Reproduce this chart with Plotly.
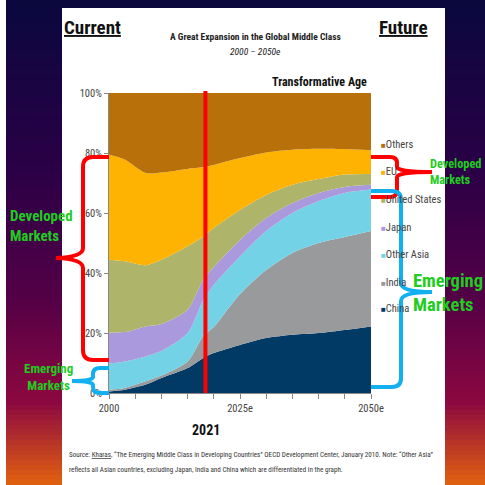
import plotly.graph_objects as go

years = [2000, 2003, 2007, 2010, 2015, 2018, 2020, 2025, 2030, 2035, 2040, 2045, 2050]
china = [0.5, 1.1, 2.8, 5.0, 8.3, 11.7, 13.3, 16.0, 18.3, 19.4, 20.0, 21.0, 22.2]
india = [0.6, 0.6, 1.1, 0.8, 2.2, 7.3, 8.7, 17.0, 22.7, 27.3, 30.0, 31.0, 31.8]
other_asia = [8.7, 8.8, 8.3, 8.2, 9.5, 12.0, 14.0, 12.5, 13.0, 13.3, 14.0, 14.7, 13.8]
japan = [10.4, 9.8, 10.0, 9.0, 7.8, 6.8, 6.0, 5.5, 4.3, 3.3, 2.7, 2.0, 1.6]
united_states = [24.2, 23.6, 20.4, 21.4, 21.1, 14.4, 13.0, 10.0, 7.7, 6.1, 4.6, 4.1, 3.6]
eu = [35.0, 33.9, 30.7, 29.1, 25.8, 23.1, 21.0, 17.3, 14.2, 11.7, 10.1, 8.5, 7.9]
others = [20.6, 22.2, 26.7, 26.5, 25.3, 24.7, 24.0, 21.7, 19.8, 18.9, 18.6, 18.7, 19.1]

series_names = ["China", "India", "Other Asia", "Japan", "United States", "EU", "Others"]
series_values = [china, india, other_asia, japan, united_states, eu, others]
series_colors = ["#023A66", "#999A9C", "#74D2E6", "#AA99DC", "#AEB46A", "#FEB302", "#B8710A"]

x_tickvals = [2000, 2005, 2010, 2015, 2020, 2025, 2030, 2035, 2040, 2045, 2050]
x_ticktext = ["2000", "", "", "", "", "2025e", "", "", "", "", "2050e"]
y_tickvals = [0, 20, 40, 60, 80, 100]
y_ticktext = ["0%", "20%", "40%", "60%", "80%", "100%"]
marker_year = 2018.4
marker_label = "2021"

NARROW = "Roboto Condensed, Liberation Sans Narrow, Arial Narrow, Liberation Sans"

# plot area in pixels
L, R, T, B = 109, 371, 93, 393
W = 485

def px(X):
    return (X - L) / (R - L)

def py(Y):
    return (B - Y) / (B - T)

fig = go.Figure()
for name, vals, col in zip(series_names, series_values, series_colors):
    fig.add_trace(go.Scatter(
        x=years, y=vals, name=name, mode="none", stackgroup="one",
        fillcolor=col, line=dict(shape="spline", smoothing=0.8, width=0),
        showlegend=False, hoverinfo="x+y+name"))

shapes = []
# background gradient
stops = [(0, (10, 8, 62)), (0.35, (42, 0, 70)), (0.62, (85, 0, 70)),
         (0.83, (140, 8, 64)), (1.0, (226, 98, 14))]

def grad(t):
    for i in range(len(stops) - 1):
        a, ca = stops[i]
        b, cb = stops[i + 1]
        if a <= t <= b:
            f = (t - a) / (b - a)
            return "rgb(%d,%d,%d)" % tuple(round(ca[k] + (cb[k] - ca[k]) * f) for k in range(3))
    return "rgb(%d,%d,%d)" % stops[-1][1]

step = 5
for Y in range(0, W, step):
    shapes.append(dict(type="rect", xref="paper", yref="paper", layer="below",
                       x0=px(0), x1=px(W), y0=py(min(Y + step + 1, W)), y1=py(Y),
                       line=dict(width=0), fillcolor=grad((Y + step / 2) / W)))
# white strips / panel
shapes.append(dict(type="rect", xref="paper", yref="paper", layer="below",
                   x0=px(0), x1=px(6), y0=py(W), y1=py(0), line=dict(width=0), fillcolor="white"))
shapes.append(dict(type="rect", xref="paper", yref="paper", layer="below",
                   x0=px(62), x1=px(445), y0=py(W), y1=py(8), line=dict(width=0), fillcolor="white"))

# red marker line
shapes.append(dict(type="line", xref="x", yref="paper", x0=marker_year, x1=marker_year,
                   y0=0, y1=py(91), line=dict(color="#FF0000", width=4)))


def path(cmds):
    out = []
    for c in cmds:
        op = c[0]
        pts = c[1:]
        s = " ".join("%.5f,%.5f" % (px(pts[i]), py(pts[i + 1])) for i in range(0, len(pts), 2))
        out.append(op + " " + s)
    return " ".join(out)

red_left = path([("M", 109, 157), ("L", 93, 157), ("Q", 83, 157, 83, 167), ("L", 83, 248),
                 ("Q", 83, 257, 56, 258), ("Q", 83, 259, 83, 268), ("L", 83, 350),
                 ("Q", 83, 360, 93, 360), ("L", 109, 360)])
blue_left = path([("M", 109, 368), ("L", 100, 368), ("Q", 93, 368, 93, 374), ("L", 93, 377),
                  ("Q", 93, 381, 72, 381), ("Q", 93, 381, 93, 385), ("L", 93, 387),
                  ("Q", 93, 393, 100, 393), ("L", 109, 393)])
red_right = path([("M", 371, 157), ("L", 390, 157), ("Q", 397, 157, 397, 163), ("L", 397, 167),
                  ("Q", 397, 172, 432, 172), ("Q", 397, 172, 397, 177), ("L", 397, 190),
                  ("Q", 397, 197, 390, 197), ("L", 371, 197)])
blue_right = path([("M", 371, 191), ("L", 392, 191), ("Q", 401, 191, 401, 200), ("L", 401, 283),
                   ("Q", 401, 292, 432, 292), ("Q", 401, 292, 401, 301), ("L", 401, 378),
                   ("Q", 401, 387, 392, 387), ("L", 371, 387)])
for p, col in [(red_left, "#FF0000"), (red_right, "#FF0000"), (blue_left, "#12B0EE"), (blue_right, "#12B0EE")]:
    shapes.append(dict(type="path", xref="paper", yref="paper", path=p, layer="above",
                       line=dict(color=col, width=4)))

ann = []

def text(X, Y, s, size, color="#222", xanchor="left", family=NARROW, align="left"):
    ann.append(dict(x=px(X), y=py(Y), xref="paper", yref="paper", text=s, showarrow=False,
                    xanchor=xanchor, yanchor="middle", align=align,
                    font=dict(size=size, color=color, family=family)))

text(62, 27, "<b><u>Current</u></b>", 19, "#111")
text(377, 27, "<b><u>Future</u></b>", 19, "#111")
text(255, 37, "<b>A Great Expansion in the Global Middle Class</b>", 9.5, "#222", "center")
text(255, 52, "<i>2000 – 2050e</i>", 9.5, "#222", "center")
text(369, 82, "<b>Transformative Age</b>", 12, "#111", "right")

# legend (manual)
leg_y = [308, 282, 254, 227, 199, 171, 144]
for name, col, Y in zip(series_names, series_colors, leg_y):
    text(379, Y, "<span style='color:%s;font-size:8px'>■</span>%s" % (col, name), 10.5, "#444")

green = "#1FCC1F"
text(8, 226, "<b>Developed<br>Markets</b>", 15, green)
text(48, 377, "<b>Emerging<br>Markets</b>", 13, green, "center", align="center")
text(428, 172, "<b>Developed<br>Markets</b>", 12.3, green)
text(411, 293, "<b>Emerging<br>Markets</b>", 18.5, green)

text(206, 430, "<b>" + marker_label + "</b>", 14, "#111", "center")
text(67, 454, "Source: <u>Kharas</u>, “The Emerging Middle Class in Developing Countries” OECD Development Center, January 2010. Note: “Other Asia”", 7.1, "#333")
text(67, 469, "reflects all Asian countries, excluding Japan, India and China which are differentiated in the graph.", 7.1, "#333")

fig.update_layout(
    width=W, height=W, margin=dict(l=L, r=W - R, t=T, b=W - B),
    paper_bgcolor="white", plot_bgcolor="rgba(0,0,0,0)",
    shapes=shapes, annotations=ann, showlegend=False,
    xaxis=dict(range=[2000, 2050], tickvals=x_tickvals, ticktext=x_ticktext,
               ticks="outside", ticklen=5, tickcolor="#888", showgrid=False, zeroline=False,
               showline=True, linecolor="#888", tickfont=dict(family=NARROW, size=10.5, color="#444")),
    yaxis=dict(range=[0, 100], tickvals=y_tickvals, ticktext=y_ticktext,
               ticks="outside", ticklen=4, tickcolor="#888", showgrid=False, zeroline=False,
               showline=True, linecolor="#888", tickfont=dict(family=NARROW, size=10.5, color="#444")),
)
fig.write_html("out.html")
